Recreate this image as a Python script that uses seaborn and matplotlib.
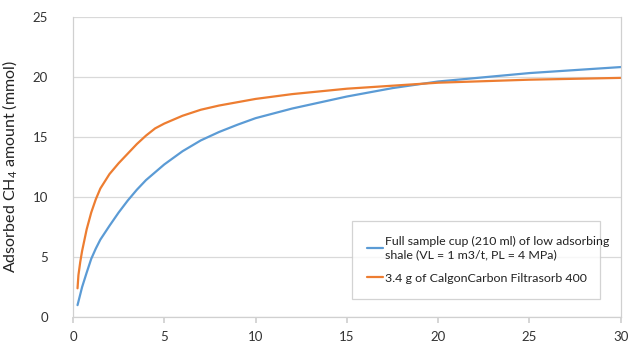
import matplotlib
matplotlib.use("Agg")
import matplotlib.pyplot as plt
import seaborn as sns
import pandas as pd

shale_x = [0.25, 0.5, 0.75, 1, 1.25, 1.5, 2, 2.5, 3, 3.5, 4, 5, 6, 7, 8, 9, 10, 12, 15, 17.5, 20, 25, 30]
shale_y = [1.0, 2.5, 3.7, 4.85, 5.7, 6.45, 7.6, 8.7, 9.7, 10.6, 11.4, 12.7, 13.8, 14.7, 15.4, 16.0, 16.55, 17.35, 18.35, 19.05, 19.6, 20.3, 20.8]
carbon_x = [0.25, 0.3, 0.4, 0.5, 0.75, 1, 1.25, 1.5, 2, 2.5, 3, 3.5, 4, 4.5, 5, 6, 7, 8, 10, 12, 15, 17.5, 20, 25, 30]
carbon_y = [2.4, 3.5, 4.6, 5.5, 7.3, 8.7, 9.8, 10.7, 11.9, 12.8, 13.6, 14.4, 15.1, 15.7, 16.1, 16.75, 17.25, 17.6, 18.15, 18.55, 19.0, 19.25, 19.5, 19.75, 19.9]

label_shale = "Full sample cup (210 ml) of low adsorbing\nshale (VL = 1 m3/t, PL = 4 MPa)"
label_carbon = "3.4 g of CalgonCarbon Filtrasorb 400"

df = pd.concat([
    pd.DataFrame({"x": shale_x, "y": shale_y, "series": label_shale}),
    pd.DataFrame({"x": carbon_x, "y": carbon_y, "series": label_carbon}),
])

sns.set_theme(style="white")
plt.rcParams['font.family'] = ['Lato', 'DejaVu Sans']
plt.rcParams['mathtext.default'] = 'regular'

fig = plt.figure(figsize=(6.4, 3.6), dpi=100)
ax = fig.add_axes([0.114, 0.119, 0.856, 0.835])

sns.lineplot(data=df, x="x", y="y", hue="series", sort=False, estimator=None,
             palette=["#5B9BD5", "#ED7D31"], linewidth=1.6, ax=ax)

ax.set_xlim(0, 30)
ax.set_ylim(0, 25)
ax.set_xticks([0, 5, 10, 15, 20, 25, 30])
ax.set_yticks([0, 5, 10, 15, 20, 25])
ax.set_xlabel("")
ax.set_ylabel("Adsorbed CH$_4$ amount (mmol)", fontsize=11.5, color="#222222", labelpad=10)
ax.yaxis.grid(True, color="#D9D9D9", linewidth=0.9)
ax.xaxis.grid(False)
for s in ["left", "bottom", "right"]:
    ax.spines[s].set_visible(True)
    ax.spines[s].set_color("#D0D0D0")
    ax.spines[s].set_linewidth(0.9)
ax.spines["top"].set_visible(False)
ax.tick_params(axis="x", which="major", bottom=True, length=4, color="#D0D0D0", labelsize=9.5, labelcolor="#333333", pad=6)
ax.tick_params(axis="y", which="major", left=False, labelsize=9.5, labelcolor="#333333", pad=12)

leg = ax.legend(loc="lower left", bbox_to_anchor=(0.498, 0.04, 0.476, 0.30), mode="expand",
                fontsize=8.9, frameon=True, fancybox=False, handlelength=1.3, handletextpad=0.15,
                borderpad=1.25, labelspacing=1.0, title=None)
leg.get_frame().set_edgecolor("#C8C8C8")
leg.get_frame().set_linewidth(0.9)
for t in leg.get_texts():
    t.set_color("#222222")

fig.savefig("out.png", dpi=100, facecolor="white")
